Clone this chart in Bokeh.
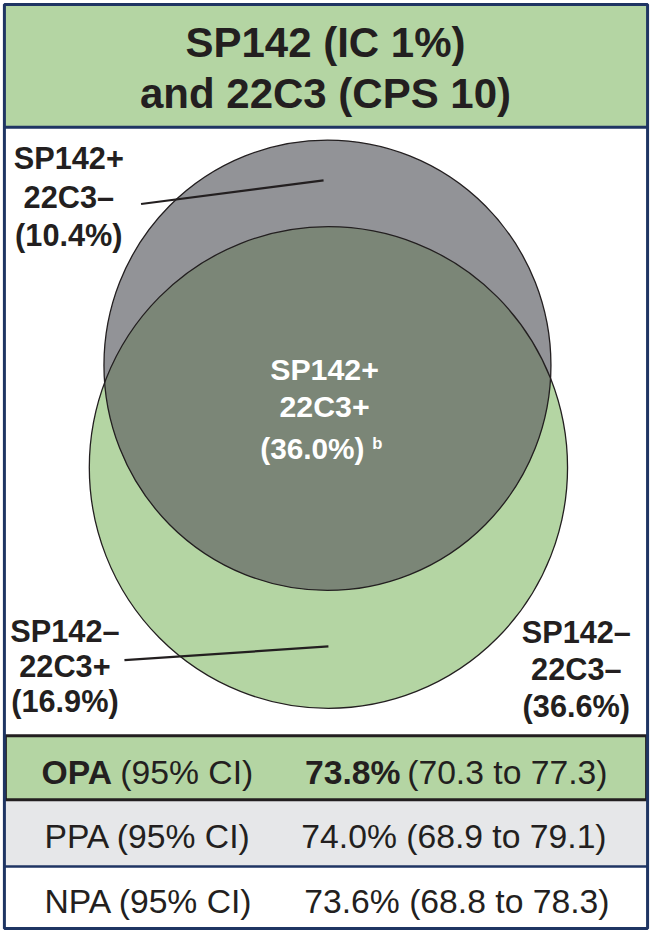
import numpy as np
from bokeh.plotting import figure
from bokeh.models import Range1d
from bokeh.core.properties import value
from bokeh.embed import file_html
from bokeh.resources import INLINE

# ---------------- data ----------------
title_lines = ["SP142 (IC 1%)", "and 22C3 (CPS 10)"]
region_sp142 = ["SP142+", "SP142+", "SP142\u2013", "SP142\u2013"]
region_22c3 = ["22C3\u2013", "22C3+", "22C3+", "22C3\u2013"]
region_pct = [10.4, 36.0, 16.9, 36.6]
region_note = ["", "b", "", ""]
metric_names = ["OPA", "PPA", "NPA"]
metric_ci_label = ["(95% CI)", "(95% CI)", "(95% CI)"]
metric_est = [73.8, 74.0, 73.6]
metric_lo = [70.3, 68.9, 68.8]
metric_hi = [77.3, 79.1, 78.3]

# ---------------- layout / styles ----------------
W, H = 650, 931
REF_W, REF_H = 666, 947
SX = W / REF_W


def fs(px):
    return "%.1fpx" % (px * SX)


FONT = value("Liberation Sans")
INK = "#231f20"
NAVY = "#1f3563"
GREEN = "#b4d5a3"
GRAY = "#929397"
OVERLAP = "#7b8677"
ROWGRAY = "#e6e7e9"

L, R, T, B = 4, 663, 4, 944
TITLE_BOTTOM = 129
ROW_EDGES = [748, 813, 881, B]
ROW_FILLS = [GREEN, ROWGRAY, "white"]

green_c, green_r = (336.0, 475.0), 245.0
gray_c, gray_r = (335.0, 371.0), 229.0

p = figure(width=W, height=H, output_backend="svg", toolbar_location=None,
           x_range=Range1d(0, REF_W), y_range=Range1d(REF_H, 0),
           x_axis_type=None, y_axis_type=None, min_border=0)
p.grid.visible = False
p.outline_line_color = None
p.background_fill_color = "white"
p.border_fill_color = "white"

# title box
p.quad(left=[L], right=[R], top=[T], bottom=[TITLE_BOTTOM], fill_color=GREEN, line_color=None)
# table row fills
for i in range(3):
    p.quad(left=[L], right=[R], top=[ROW_EDGES[i]], bottom=[ROW_EDGES[i + 1]],
           fill_color=ROW_FILLS[i], line_color=None)

# venn circles (drawn as ellipses in data units so they stay consistent with the lens)
p.ellipse(x=[green_c[0]], y=[green_c[1]], width=2 * green_r, height=2 * green_r,
          fill_color=GREEN, line_color=None)
p.ellipse(x=[gray_c[0]], y=[gray_c[1]], width=2 * gray_r, height=2 * gray_r,
          fill_color=GRAY, line_color=None)

# overlap lens
th = np.linspace(0, 2 * np.pi, 1440, endpoint=False)
gx = green_c[0] + green_r * np.cos(th); gy = green_c[1] + green_r * np.sin(th)
hx = gray_c[0] + gray_r * np.cos(th); hy = gray_c[1] + gray_r * np.sin(th)
in1 = (gx - gray_c[0]) ** 2 + (gy - gray_c[1]) ** 2 <= gray_r ** 2
in2 = (hx - green_c[0]) ** 2 + (hy - green_c[1]) ** 2 <= green_r ** 2
lx = np.concatenate([gx[in1], hx[in2]]); ly = np.concatenate([gy[in1], hy[in2]])
cx, cy = lx.mean(), ly.mean()
order = np.argsort(np.arctan2(ly - cy, lx - cx))
p.patch(x=lx[order], y=ly[order], fill_color=OVERLAP, line_color=None)

# outlines
p.ellipse(x=[green_c[0]], y=[green_c[1]], width=2 * green_r, height=2 * green_r,
          fill_color=None, line_color=INK, line_width=1.3)
p.ellipse(x=[gray_c[0]], y=[gray_c[1]], width=2 * gray_r, height=2 * gray_r,
          fill_color=None, line_color=INK, line_width=1.3)

# leader lines
p.segment(x0=[144, 127], y0=[207, 671], x1=[331, 336], y1=[183, 657], line_color=INK, line_width=2.2)

TXT = dict(text_font=FONT, text_baseline="middle")

# title text (y = vertical centre of capitals)
p.text(x=[333, 333], y=[43, 95], text=title_lines, text_font_style="bold",
       text_font_size=fs(43), text_align="center", text_color=INK, **TXT)

# region labels
label_pos = [  # (x, line centres, color)
    (70, [161, 200, 239], INK),
    (332, [375, 413, 456], "white"),
    (66, [642, 677, 713], INK),
    (590, [643, 680, 718], INK),
]
for i, (x, ys, col) in enumerate(label_pos):
    pct = "(%.1f%%)" % region_pct[i]
    lines = [region_sp142[i], region_22c3[i], pct]
    if region_note[i]:
        p.text(x=[x, x], y=ys[:2], text=lines[:2], text_font_style="bold",
               text_font_size=fs(31), text_align="center", text_color=col, **TXT)
        p.text(x=[373], y=[ys[2]], text=[pct], text_font_style="bold",
               text_font_size=fs(30.5), text_align="right", text_color=col, **TXT)
        p.text(x=[381], y=[ys[2] - 5], text=[region_note[i]], text_font_style="bold",
               text_font_size=fs(17), text_align="left", text_color=col, **TXT)
    else:
        p.text(x=[x] * 3, y=ys, text=lines, text_font_style="bold",
               text_font_size=fs(31.5), text_align="center", text_color=col, **TXT)

# table text
row_mid = [785, 850, 916]
TF = fs(34.5)
for i in range(3):
    est = "%.1f%%" % metric_est[i]
    ci = "(%.1f to %.1f)" % (metric_lo[i], metric_hi[i])
    if i == 0:
        p.text(x=[42], y=[row_mid[i]], text=[metric_names[i]], text_font_style="bold",
               text_font_size=TF, text_align="left", text_color=INK, **TXT)
        p.text(x=[259], y=[row_mid[i]], text=[metric_ci_label[i]],
               text_font_size=TF, text_align="right", text_color=INK, **TXT)
        p.text(x=[312], y=[row_mid[i]], text=[est], text_font_style="bold",
               text_font_size=TF, text_align="left", text_color=INK, **TXT)
        p.text(x=[622], y=[row_mid[i]], text=[ci],
               text_font_size=TF, text_align="right", text_color=INK, **TXT)
    else:
        p.text(x=[45], y=[row_mid[i]], text=[metric_names[i] + " " + metric_ci_label[i]],
               text_font_size=TF, text_align="left", text_color=INK, **TXT)
        p.text(x=[621 + (3 if i == 2 else 0)], y=[row_mid[i]], text=[est + " " + ci],
               text_font_size=TF, text_align="right", text_color=INK, **TXT)

# separators and frame
p.segment(x0=[L], y0=[TITLE_BOTTOM], x1=[R], y1=[TITLE_BOTTOM], line_color=NAVY, line_width=3)
p.quad(left=[L + 1], right=[R - 1], top=[ROW_EDGES[0]], bottom=[ROW_EDGES[1]],
       fill_color=None, line_color=INK, line_width=3)
p.segment(x0=[L], y0=[ROW_EDGES[2]], x1=[R], y1=[ROW_EDGES[2]], line_color=NAVY, line_width=2.5)
p.quad(left=[L], right=[R], top=[T], bottom=[B], fill_color=None, line_color=NAVY, line_width=3)

open("out.html", "w").write(file_html(p, INLINE))
